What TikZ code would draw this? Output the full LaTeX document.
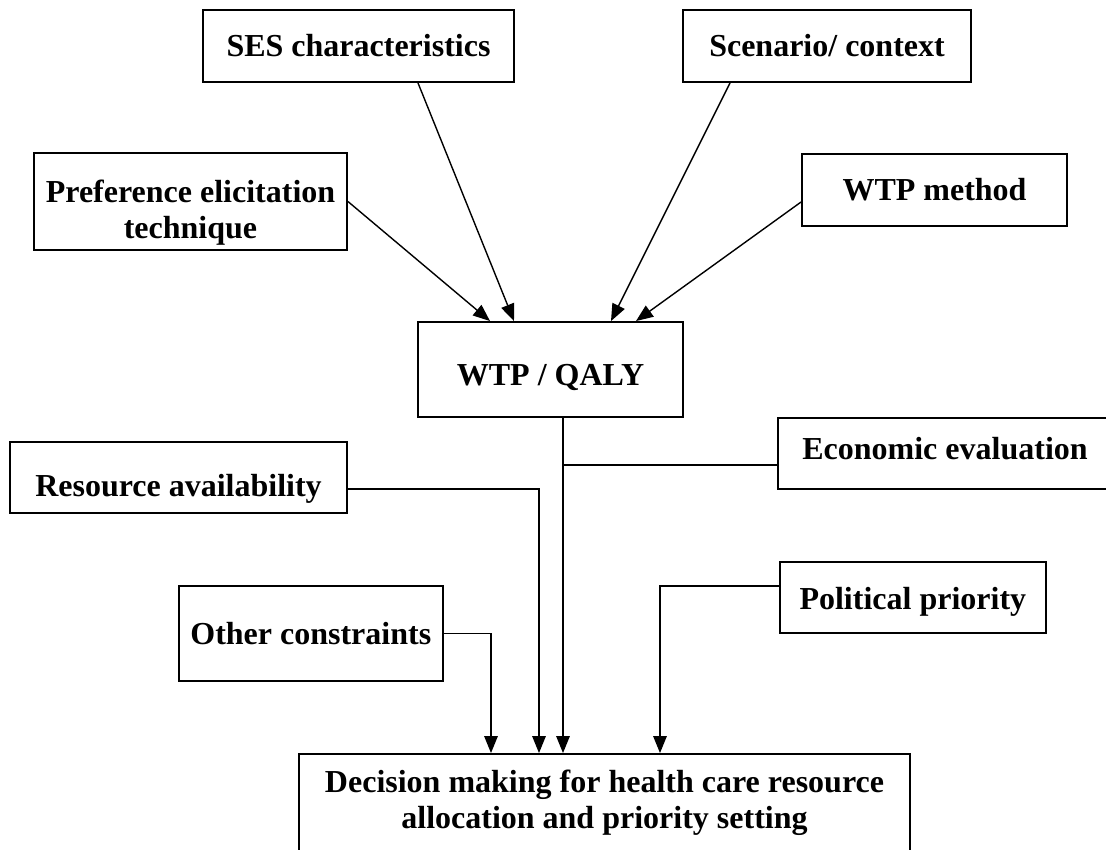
\documentclass[tikz,border=0pt]{standalone}
\usepackage{fontspec}
\setmainfont{Liberation Serif}
\usetikzlibrary{arrows.meta}
\newcommand{\tf}{\bfseries\fontsize{32}{36}\selectfont}
\begin{document}
\begin{tikzpicture}[x=1pt,y=-1pt,
  box/.style={draw, line width=1.9pt, inner sep=0pt, fill=none},
  tlc/.style={font=\tf, inner sep=0pt, align=center},
  conn/.style={line width=1.4pt},
  arr/.style={line width=1.4pt, -{Triangle[length=17pt,width=13.5pt]}}]
\useasboundingbox (0,0) rectangle (1106,849);
% boxes
\node[box, minimum width=311pt, minimum height=72pt,
  label={[tlc]center:SES characteristics}] (ses) at (358.5,46) {};
\node[box, minimum width=288pt, minimum height=72pt,
  label={[tlc]center:Scenario/ context}] (scen) at (827,46) {};
\node[box, minimum width=313pt, minimum height=97pt,
  label={[tlc,yshift=-11.5pt]center:Preference elicitation\\technique}] (pref) at (190.5,201.5) {};
\node[box, minimum width=265pt, minimum height=72pt,
  label={[tlc]center:WTP method}] (wtpm) at (934.5,190) {};
\node[box, minimum width=265pt, minimum height=95pt,
  label={[tlc,yshift=-7.5pt]center:WTP / QALY}] (wtpq) at (550.5,369.5) {};
\node[box, minimum width=337pt, minimum height=71pt,
  label={[tlc,yshift=-11pt]center:Resource availability}] (res) at (178.5,477.5) {};
\node[box, minimum width=334pt, minimum height=71pt,
  label={[tlc,yshift=4.7pt]center:Economic evaluation}] (econ) at (945,453.5) {};
\node[box, minimum width=264.4pt, minimum height=95pt,
  label={[tlc]center:Other constraints}] (oth) at (310.8,633.5) {};
\node[box, minimum width=266.4pt, minimum height=71pt,
  label={[tlc,yshift=-4.5pt]center:Political priority}] (pol) at (912.8,597.5) {};
\node[box, minimum width=611pt, minimum height=98pt,
  label={[tlc]center:Decision making for health care resource\\allocation and priority setting}] (dec) at (604.5,803) {};
% arrows into WTP / QALY
\draw[arr] ([xshift=59.5pt]ses.south) -- ([xshift=-36.5pt]wtpq.north);
\draw[arr] ([xshift=-97pt]scen.south) -- ([xshift=60.5pt]wtpq.north);
\draw[arr] (pref.east) -- ([xshift=-60.5pt]wtpq.north);
\draw[arr] ([yshift=-12pt]wtpm.west) -- ([xshift=85.5pt]wtpq.north);
% WTP/QALY down to decision
\coordinate (wq) at ([xshift=12.5pt]wtpq.south);
\coordinate (wd) at ([xshift=-41.5pt]dec.north);
\draw[arr] (wq) -- (wd);
% economic evaluation joins
\coordinate (ew) at ([yshift=-11.5pt]econ.west);
\draw[conn] (ew) -- (wq |- ew);
% resource availability
\coordinate (re) at ([yshift=-11.5pt]res.east);
\coordinate (rd) at ([xshift=-65.5pt]dec.north);
\draw[arr] (re) -| (rd);
% other constraints
\coordinate (od) at ([xshift=-113.5pt]dec.north);
\draw[arr] (oth.east) -| (od);
% political priority
\coordinate (pw) at ([yshift=11.5pt]pol.west);
\coordinate (pd) at ([xshift=55.5pt]dec.north);
\draw[arr] (pw) -| (pd);
\end{tikzpicture}
\end{document}
